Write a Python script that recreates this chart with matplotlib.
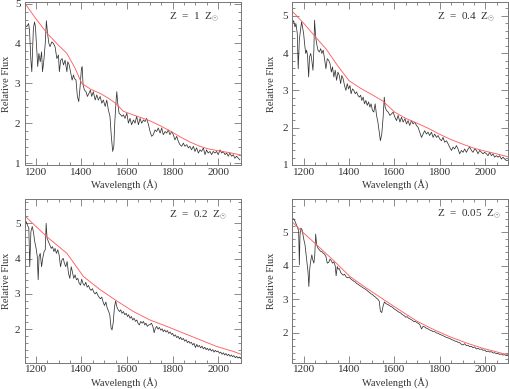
import matplotlib
matplotlib.use("Agg")
import matplotlib.pyplot as plt
from matplotlib.ticker import MultipleLocator

plt.rcParams['font.family'] = ['Liberation Serif', 'DejaVu Serif']
plt.rcParams['mathtext.fontset'] = 'custom'
plt.rcParams['mathtext.rm'] = 'Liberation Serif'
plt.rcParams['mathtext.it'] = 'Liberation Serif:italic'

# ---------------- data ----------------
# Panel 1: Z = 1 Zsun
wave1 = [1153, 1160, 1168, 1172, 1178, 1182, 1187, 1189, 1194, 1198, 1204, 1208, 1213, 1219, 1225, 1229,
         1235, 1241, 1246, 1251, 1257, 1262, 1270, 1277, 1284, 1292, 1299, 1303, 1309, 1315, 1321, 1328,
         1336, 1340, 1346, 1353, 1359, 1365, 1369, 1376, 1382, 1388, 1394, 1400, 1403, 1407, 1413, 1420,
         1426, 1433, 1439, 1445, 1452, 1460, 1467, 1474, 1482, 1489, 1496, 1504, 1511, 1518, 1525, 1531,
         1537, 1542, 1546, 1552, 1555, 1559, 1565, 1572, 1578, 1584, 1591, 1599, 1606, 1613, 1620, 1628,
         1635, 1642, 1650, 1657, 1664, 1672, 1679, 1686, 1694, 1701, 1708, 1715, 1723, 1730, 1737, 1745,
         1752, 1759, 1767, 1774, 1781, 1788, 1796, 1803, 1810, 1818, 1825, 1832, 1840, 1847, 1854, 1862,
         1869, 1876, 1883, 1891, 1898, 1905, 1913, 1920, 1927, 1935, 1942, 1949, 1956, 1964, 1971, 1978,
         1986, 1993, 2000, 2008, 2015, 2022, 2030, 2037, 2044, 2051, 2059, 2066, 2073, 2081, 2088, 2095]
flux1 = [4.46, 4.42, 4.50, 4.33, 3.58, 3.29, 4.08, 4.38, 4.54, 4.42, 3.83, 3.42, 3.75, 3.54, 3.79, 3.29,
         3.58, 4.00, 4.57, 4.25, 4.00, 3.92, 4.04, 4.00, 3.92, 3.62, 3.71, 3.29, 3.58, 3.62, 3.46, 3.58,
         3.29, 3.54, 3.46, 3.25, 3.08, 3.21, 3.12, 3.08, 2.67, 2.54, 2.92, 3.38, 3.42, 2.96, 2.83, 2.79,
         2.67, 2.75, 2.83, 2.67, 2.79, 2.58, 2.71, 2.58, 2.67, 2.50, 2.58, 2.42, 2.58, 2.33, 2.17, 1.67,
         1.29, 1.42, 2.00, 2.58, 2.79, 2.50, 2.25, 2.21, 2.17, 2.21, 2.12, 2.25, 2.00, 2.12, 1.96, 2.08,
         2.00, 2.17, 1.96, 2.12, 2.00, 2.08, 2.04, 2.12, 1.96, 1.79, 1.67, 1.71, 1.83, 1.79, 1.88, 1.75,
         1.88, 1.71, 1.79, 1.75, 1.83, 1.71, 1.79, 1.71, 1.58, 1.67, 1.54, 1.46, 1.42, 1.50, 1.42, 1.46,
         1.38, 1.42, 1.33, 1.42, 1.29, 1.38, 1.25, 1.33, 1.29, 1.38, 1.21, 1.33, 1.25, 1.29, 1.21, 1.29,
         1.25, 1.29, 1.21, 1.33, 1.25, 1.29, 1.21, 1.25, 1.17, 1.25, 1.17, 1.21, 1.12, 1.17, 1.12, 1.08]
cwave1 = [1150, 1200, 1250, 1300, 1336, 1370, 1401, 1440, 1481, 1520, 1554, 1583, 1620, 1656, 1700,
          1744, 1790, 1832, 1875, 1919, 1960, 2007, 2050, 2100]
cont1 = [5.02, 4.62, 4.25, 3.95, 3.75, 3.40, 3.00, 2.85, 2.75, 2.62, 2.48, 2.30, 2.22, 2.15, 2.06,
         1.94, 1.80, 1.66, 1.53, 1.42, 1.35, 1.30, 1.26, 1.20]

# Panel 2: Z = 0.4 Zsun
wave2 = [1150, 1156, 1162, 1166, 1172, 1176, 1181, 1187, 1191, 1195, 1200, 1204, 1209, 1213, 1217, 1222,
         1226, 1231, 1235, 1241, 1245, 1248, 1253, 1257, 1263, 1269, 1275, 1280, 1286, 1292, 1298, 1304,
         1310, 1316, 1322, 1327, 1333, 1339, 1345, 1351, 1357, 1363, 1368, 1374, 1380, 1386, 1392, 1398,
         1404, 1409, 1415, 1421, 1427, 1433, 1439, 1445, 1451, 1456, 1462, 1468, 1474, 1480, 1486, 1492,
         1497, 1503, 1509, 1515, 1521, 1527, 1533, 1538, 1544, 1550, 1555, 1559, 1565, 1572, 1580, 1587,
         1594, 1602, 1609, 1616, 1624, 1631, 1638, 1646, 1653, 1660, 1667, 1675, 1682, 1689, 1697, 1704,
         1711, 1719, 1726, 1733, 1741, 1748, 1755, 1763, 1770, 1777, 1785, 1792, 1799, 1807, 1814, 1821,
         1829, 1836, 1843, 1851, 1858, 1865, 1873, 1880, 1887, 1895, 1902, 1909, 1917, 1924, 1931, 1939,
         1946, 1953, 1961, 1968, 1975, 1983, 1990, 1997, 2005, 2012, 2019, 2027, 2034, 2041, 2049, 2056,
         2063, 2071, 2078, 2085, 2093, 2100]
flux2 = [4.79, 4.87, 4.70, 4.79, 4.52, 3.58, 4.35, 4.66, 4.84, 4.70, 4.52, 4.26, 3.99, 4.08, 3.94, 3.36,
         3.90, 3.99, 3.85, 3.54, 4.08, 4.88, 4.43, 4.26, 4.08, 4.03, 4.12, 3.99, 4.08, 3.85, 3.58, 3.85,
         3.81, 3.72, 3.49, 3.63, 3.36, 3.54, 3.27, 3.49, 3.40, 3.18, 3.40, 3.31, 3.13, 3.00, 3.18, 3.04,
         3.13, 2.91, 3.04, 3.00, 2.91, 2.96, 2.87, 2.82, 2.87, 2.73, 2.82, 2.64, 2.73, 2.60, 2.69, 2.55,
         2.64, 2.46, 2.42, 2.64, 2.33, 2.15, 1.88, 1.65, 1.83, 2.28, 2.82, 2.55, 2.46, 2.42, 2.33, 2.37,
         2.42, 2.28, 2.19, 2.33, 2.15, 2.28, 2.15, 2.24, 2.10, 2.19, 2.06, 2.19, 2.10, 2.15, 2.06, 2.01,
         1.88, 1.74, 1.83, 1.92, 1.83, 1.88, 1.79, 1.88, 1.74, 1.83, 1.74, 1.79, 1.70, 1.65, 1.74, 1.61,
         1.65, 1.57, 1.48, 1.39, 1.48, 1.43, 1.52, 1.43, 1.30, 1.39, 1.34, 1.43, 1.34, 1.43, 1.48, 1.39,
         1.34, 1.43, 1.39, 1.30, 1.39, 1.34, 1.30, 1.34, 1.30, 1.25, 1.34, 1.25, 1.30, 1.21, 1.25, 1.21,
         1.25, 1.16, 1.21, 1.16, 1.12, 1.13]
cwave2 = [1150, 1200, 1250, 1300, 1350, 1400, 1450, 1500, 1550, 1600, 1650, 1700, 1750, 1800, 1850,
          1900, 1950, 2000, 2050, 2100]
cont2 = [5.12, 4.80, 4.45, 4.10, 3.66, 3.26, 3.06, 2.89, 2.71, 2.42, 2.25, 2.12, 1.98, 1.82, 1.68,
         1.56, 1.45, 1.37, 1.30, 1.22]

# Panel 3: Z = 0.2 Zsun
wave3 = [1153, 1157, 1163, 1169, 1173, 1178, 1184, 1189, 1195, 1201, 1206, 1210, 1214, 1219, 1225, 1230,
         1236, 1241, 1245, 1249, 1255, 1261, 1267, 1273, 1279, 1284, 1290, 1296, 1302, 1308, 1314, 1320,
         1325, 1331, 1337, 1343, 1349, 1355, 1360, 1366, 1372, 1378, 1384, 1390, 1396, 1401, 1407, 1413,
         1419, 1425, 1431, 1436, 1442, 1448, 1454, 1460, 1466, 1472, 1477, 1483, 1489, 1495, 1501, 1507,
         1512, 1518, 1524, 1530, 1534, 1539, 1545, 1550, 1555, 1561, 1567, 1572, 1578, 1584, 1590, 1596,
         1602, 1607, 1613, 1619, 1625, 1631, 1637, 1643, 1648, 1654, 1660, 1666, 1672, 1678, 1683, 1689,
         1695, 1701, 1707, 1713, 1719, 1724, 1730, 1736, 1742, 1748, 1754, 1759, 1765, 1771, 1777, 1783,
         1789, 1795, 1800, 1806, 1812, 1818, 1824, 1830, 1835, 1841, 1847, 1853, 1859, 1865, 1871, 1876,
         1882, 1888, 1894, 1900, 1906, 1911, 1917, 1923, 1929, 1935, 1941, 1947, 1952, 1958, 1964, 1970,
         1976, 1982, 1987, 1993, 1999, 2005, 2011, 2017, 2023, 2028, 2034, 2040, 2046, 2052, 2058, 2063,
         2069, 2075, 2081, 2087, 2093, 2099]
flux3 = [4.91, 5.05, 4.95, 4.86, 3.77, 4.76, 4.91, 4.76, 4.48, 4.29, 4.06, 3.40, 4.06, 4.15, 3.77, 4.01,
         4.20, 4.25, 5.00, 4.58, 4.48, 4.39, 4.29, 4.34, 4.20, 4.29, 4.15, 4.25, 4.10, 3.77, 3.96, 4.01,
         3.87, 3.77, 3.92, 3.58, 3.44, 3.77, 3.63, 3.44, 3.54, 3.40, 3.44, 3.30, 3.25, 3.42, 3.29, 3.24,
         3.33, 3.19, 3.24, 3.15, 3.10, 3.15, 3.05, 3.00, 3.05, 2.96, 2.91, 2.86, 2.91, 2.77, 2.67, 2.77,
         2.62, 2.52, 2.42, 2.03, 1.98, 2.17, 2.64, 2.80, 2.64, 2.55, 2.50, 2.55, 2.45, 2.50, 2.41, 2.45,
         2.36, 2.41, 2.31, 2.36, 2.26, 2.31, 2.22, 2.26, 2.17, 2.12, 2.22, 2.17, 2.22, 2.12, 2.17, 2.08,
         2.12, 2.13, 2.17, 2.08, 1.90, 2.02, 2.08, 2.00, 2.05, 1.97, 2.01, 1.93, 1.98, 1.92, 1.96, 1.88,
         1.92, 1.85, 1.88, 1.80, 1.84, 1.76, 1.80, 1.72, 1.77, 1.70, 1.74, 1.66, 1.70, 1.62, 1.66, 1.60,
         1.63, 1.55, 1.60, 1.48, 1.57, 1.50, 1.54, 1.47, 1.52, 1.44, 1.49, 1.42, 1.46, 1.40, 1.45, 1.38,
         1.42, 1.35, 1.40, 1.36, 1.38, 1.32, 1.35, 1.29, 1.33, 1.27, 1.31, 1.25, 1.29, 1.23, 1.27, 1.22,
         1.25, 1.19, 1.23, 1.18, 1.21, 1.17]
cwave3 = [1150, 1248, 1336, 1409, 1482, 1555, 1628, 1701, 1774, 1847, 1920, 1993, 2066, 2100]
cont3 = [5.22, 4.62, 4.15, 3.49, 3.12, 2.80, 2.50, 2.26, 2.08, 1.89, 1.70, 1.51, 1.37, 1.29]

# Panel 4: Z = 0.05 Zsun
wave4 = [1150, 1156, 1162, 1168, 1174, 1178, 1181, 1184, 1188, 1193, 1197, 1201, 1206, 1210, 1214, 1219,
         1223, 1227, 1232, 1236, 1240, 1245, 1249, 1253, 1257, 1263, 1269, 1275, 1280, 1286, 1292, 1298,
         1304, 1310, 1316, 1322, 1327, 1333, 1339, 1343, 1348, 1352, 1357, 1363, 1368, 1374, 1380, 1386,
         1392, 1398, 1404, 1409, 1415, 1421, 1427, 1433, 1439, 1445, 1451, 1456, 1462, 1468, 1474, 1480,
         1486, 1492, 1497, 1503, 1509, 1515, 1521, 1527, 1533, 1538, 1544, 1550, 1556, 1562, 1568, 1574,
         1580, 1586, 1591, 1597, 1603, 1609, 1615, 1621, 1627, 1633, 1638, 1644, 1650, 1656, 1662, 1668,
         1674, 1680, 1685, 1691, 1697, 1704, 1711, 1719, 1726, 1733, 1741, 1748, 1755, 1763, 1770, 1777,
         1785, 1792, 1799, 1807, 1814, 1821, 1829, 1836, 1843, 1851, 1858, 1865, 1873, 1880, 1887, 1895,
         1902, 1909, 1917, 1924, 1931, 1939, 1946, 1953, 1961, 1968, 1975, 1983, 1990, 1997, 2005, 2012,
         2019, 2027, 2034, 2041, 2049, 2056, 2063, 2071, 2078, 2085, 2093, 2100]
flux4 = [5.38, 5.41, 5.33, 5.23, 5.13, 5.03, 4.03, 4.93, 5.13, 5.08, 4.93, 4.78, 4.63, 4.38, 4.13, 3.83,
         3.38, 3.93, 4.18, 4.33, 4.18, 4.08, 4.33, 4.95, 4.63, 4.53, 4.48, 4.43, 4.43, 4.38, 4.35, 4.28,
         4.08, 4.10, 4.20, 4.15, 4.08, 4.12, 4.00, 3.70, 3.98, 3.90, 3.92, 3.80, 3.76, 3.72, 3.75, 3.68,
         3.64, 3.66, 3.64, 3.60, 3.57, 3.54, 3.52, 3.47, 3.45, 3.42, 3.39, 3.37, 3.34, 3.32, 3.29, 3.26,
         3.22, 3.19, 3.16, 3.14, 3.10, 3.07, 3.03, 3.00, 2.94, 2.64, 2.60, 2.80, 2.92, 2.87, 2.85, 2.83,
         2.80, 2.78, 2.76, 2.72, 2.69, 2.67, 2.63, 2.61, 2.59, 2.55, 2.53, 2.50, 2.46, 2.48, 2.43, 2.41,
         2.39, 2.36, 2.33, 2.34, 2.31, 2.28, 2.25, 2.11, 2.19, 2.17, 2.13, 2.11, 2.08, 2.06, 2.03, 2.03,
         1.99, 1.98, 1.95, 1.93, 1.91, 1.88, 1.86, 1.84, 1.83, 1.79, 1.78, 1.75, 1.74, 1.71, 1.70, 1.65,
         1.63, 1.67, 1.61, 1.62, 1.58, 1.59, 1.55, 1.57, 1.51, 1.53, 1.50, 1.51, 1.47, 1.48, 1.43, 1.45,
         1.42, 1.43, 1.39, 1.40, 1.37, 1.38, 1.35, 1.36, 1.33, 1.34, 1.31, 1.32]
cwave4 = [1150, 1200, 1257, 1330, 1404, 1477, 1550, 1624, 1697, 1770, 1843, 1917, 1990, 2063, 2100]
cont4 = [5.31, 4.98, 4.63, 4.17, 3.68, 3.33, 3.00, 2.67, 2.35, 2.10, 1.88, 1.69, 1.53, 1.40, 1.34]

labels = [r"Z  =  1  Z$_{\odot}$", r"Z  =  0.4  Z$_{\odot}$",
          r"Z  =  0.2  Z$_{\odot}$", r"Z  =  0.05  Z$_{\odot}$"]
ylims = [(0.95, 5.04), (1.0, 5.37), (1.05, 5.69), (1.1, 6.0)]
yticks = [[1, 2, 3, 4, 5], [1, 2, 3, 4, 5], [2, 3, 4, 5], [2, 3, 4, 5]]
xticks = [1200, 1400, 1600, 1800, 2000]

W, H = 509, 389
fig = plt.figure(figsize=(W / 100, H / 100), dpi=100)
rects = [
    [24.5 / W, (H - 165) / H, 216.5 / W, 163 / H],
    [292.3 / W, (H - 165) / H, 215.7 / W, 163 / H],
    [24.5 / W, (H - 362.7) / H, 216.5 / W, 163.7 / H],
    [292.3 / W, (H - 362.7) / H, 215.7 / W, 163.7 / H],
]
label_pos = [(0.895, 0.905), (0.94, 0.905), (0.935, 0.90), (0.965, 0.905)]
xlabel_x = [0.46, 0.475, 0.46, 0.475]

data = [(wave1, flux1, cwave1, cont1), (wave2, flux2, cwave2, cont2),
        (wave3, flux3, cwave3, cont3), (wave4, flux4, cwave4, cont4)]

frame_col = '#777777'
text_col = '#333333'
for i, (w, f, cw, c) in enumerate(data):
    ax = fig.add_axes(rects[i])
    ax.plot(w, f, color='#333333', lw=0.55)
    ax.plot(cw, c, color='#ff6060', lw=0.65)
    ax.set_xlim(1150, 2100)
    ax.set_ylim(*ylims[i])
    ax.set_xticks(xticks)
    ax.set_yticks(yticks[i])
    ax.xaxis.set_minor_locator(MultipleLocator(50))
    ax.yaxis.set_minor_locator(MultipleLocator(0.2))
    ax.tick_params(which='both', direction='in', top=True, right=True,
                   color=frame_col, width=0.6, labelsize=8, labelcolor=text_col)
    ax.tick_params(which='major', length=5)
    ax.tick_params(which='minor', length=2.5)
    ax.tick_params(axis='x', pad=2)
    ax.tick_params(axis='y', pad=3)
    for s in ax.spines.values():
        s.set_color(frame_col)
        s.set_linewidth(0.7)
    ax.set_xlabel("Wavelength (Å)", fontsize=7.5, color=text_col)
    ax.xaxis.set_label_coords(xlabel_x[i], -0.085)
    ax.set_ylabel("Relative Flux", fontsize=7.5, color=text_col, va='center')
    ax.yaxis.set_label_coords(-0.083 if i % 2 == 0 else -0.095, 0.5)
    ax.text(label_pos[i][0], label_pos[i][1], labels[i], transform=ax.transAxes,
            ha='right', va='center', fontsize=8, color=text_col)

fig.savefig("out.png", dpi=100)
